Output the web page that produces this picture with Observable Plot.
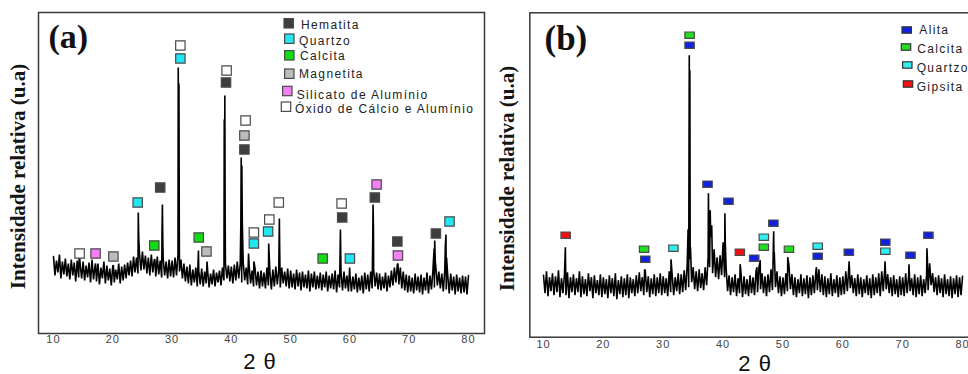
<!DOCTYPE html>
<html>
<head>
<meta charset="utf-8">
<script src="https://cdn.jsdelivr.net/npm/d3@7"></script>
<script src="https://cdn.jsdelivr.net/npm/@observablehq/plot@0.6"></script>
<style>
  body { margin: 0; background: #fff; }
  #wrap { position: relative; width: 968px; height: 374px; overflow: hidden; background: #fff; }
  #wrap > svg { position: absolute; top: 0; }
  svg { letter-spacing: 1px; }
  g[font-family="Liberation Serif"] { letter-spacing: 0; }
</style>
</head>
<body>
<div id="wrap"></div>
<script>
// ---------------- DATA ----------------
// Noise band of each pattern: upper edge at 10°, 10.5°, … 80°; lower edge at 10.25°, 10.75°, … 79.75°
const bandStart = 10, bandStep = 0.5;

// Panel (a) – upper / lower edge of the noisy baseline (arbitrary intensity units)
const upperA = [
  77,73,79,72,75,70,74,71,73,69,
  72,68,71,74,67,70,66,72,68,65,
  68,64,70,67,69,71,73,77,76,80,
  82,78,76,79,74,77,73,75,72,74,
  73,76,79,74,70,67,69,64,66,63,
  65,62,63,60,64,61,63,66,70,68,
  67,69,72,70,71,66,68,63,65,62,
  63,61,66,62,64,67,64,66,62,65,
  63,60,64,61,62,59,63,60,62,58,
  61,59,62,58,60,63,59,61,62,58,
  59,57,60,56,58,61,59,62,64,61,
  60,57,61,58,63,66,69,66,62,59,
  58,56,60,57,59,56,61,58,63,66,
  62,60,63,58,60,57,59,56,58,57,
  58
];
const lowerA = [
  58,61,55,59,57,54,58,52,56,55,
  53,56,51,54,52,49,55,50,53,48,
  51,54,50,53,55,58,57,61,60,63,
  64,60,58,61,57,59,56,58,55,57,
  56,58,62,55,52,50,48,51,47,49,
  47,50,46,49,47,51,48,53,55,52,
  50,53,55,51,53,49,50,47,48,45,
  47,45,48,44,47,49,46,50,47,45,
  46,44,47,43,46,45,42,46,44,45,
  43,46,42,45,44,41,46,43,45,42,
  42,44,41,43,40,44,42,45,47,44,
  43,45,42,46,48,51,49,45,43,41,
  42,40,43,41,39,43,40,44,46,48,
  45,42,44,40,43,39,42,40,41,39
];
// Panel (a) – diffraction peak points [2θ, intensity]
const peaksA = [
  [14.35,80],[17.1,70],[20.1,68],
  [24.3,121],[24.38,96],[27.1,74],
  [28.3,100],[28.37,129],[28.44,92],
  [31.04,266],[31.1,200],[31.16,250],[31.22,100],
  [34.45,83],[35.9,72],
  [38.8,214],[38.85,150],[38.9,238],[38.96,110],
  [41.6,110],[41.66,176],[41.71,130],[41.77,168],[41.85,110],
  [42.9,80],[43.8,72],[46.3,90],[48.1,115],[48.15,85],
  [58.4,104],[58.45,80],[59.95,66],
  [63.85,95],[63.9,129],[63.96,108],[63.99,85],
  [68.1,70],[74.2,85],[74.3,93],[74.4,72],
  [76.1,88],[76.2,99],[76.3,76]
];
// Panel (a) – phase markers [phase, 2θ, intensity]
const markersA = [
  ["Óxido",14.4,80],["Silicato",17.1,80],["Magnetita",20.1,77],
  ["Quartzo",24.2,131],["Calcita",27.0,88],["Hematita",28.0,146],
  ["Quartzo",31.4,275],["Óxido",31.4,288],
  ["Calcita",34.5,96],["Magnetita",35.8,82],
  ["Hematita",39.1,251],["Óxido",39.2,263],
  ["Óxido",42.4,213],["Magnetita",42.2,198],["Hematita",42.2,184],
  ["Óxido",43.8,101],["Quartzo",43.8,90],
  ["Óxido",46.4,114],["Quartzo",46.2,102],["Óxido",48.0,131],
  ["Calcita",55.4,75],["Óxido",58.6,130],["Hematita",58.7,116],
  ["Quartzo",60.0,75],["Silicato",64.5,149],["Hematita",64.2,136],
  ["Hematita",68.0,92],["Silicato",68.1,78],
  ["Hematita",74.5,100],["Quartzo",76.8,112]
];
const phasesA = ["Hematita","Quartzo","Calcita","Magnetita","Silicato","Óxido"];
const phaseLabelsA = ["Hematita","Quartzo","Calcita","Magnetita","Silicato de Alumínio","Óxido de Cálcio e Alumínio"];
const phaseColorsA = ["#3e3e3e","#22e6f2","#12dc12","#bcbcbc","#f57ff5","#ffffff"];

// Panel (b) – upper / lower edge of the noisy baseline
const upperB = [
  62,66,60,64,61,67,59,63,65,60,
  63,59,66,61,58,64,60,62,57,63,
  60,58,62,59,64,57,61,59,63,60,
  58,62,65,60,66,61,59,63,60,64,
  61,59,66,62,60,64,63,67,72,78,
  70,66,68,64,70,80,110,88,80,82,
  95,70,62,60,63,59,64,61,58,62,
  60,66,70,64,61,63,68,78,66,61,
  60,64,72,63,60,58,63,59,62,60,
  62,66,68,63,61,59,64,58,62,60,
  61,66,70,62,59,63,60,58,62,59,
  63,60,64,66,68,63,60,62,58,61,
  60,64,62,59,63,60,62,58,63,74,
  64,60,62,59,63,58,61,59,62,60,
  61
];
const lowerB = [
  44,41,46,42,45,40,44,42,39,45,
  42,45,40,43,41,46,39,44,42,40,
  43,39,44,41,38,43,40,42,39,44,
  41,44,46,42,45,40,43,41,44,42,
  44,41,45,42,46,43,45,47,50,55,
  48,46,49,47,52,70,64,60,58,62,
  60,46,42,45,41,44,40,43,41,44,
  42,45,48,44,41,45,47,50,44,41,
  43,46,48,42,40,44,41,43,39,42,
  44,47,45,42,40,43,41,44,40,42,
  43,46,49,44,41,43,40,44,42,39,
  42,44,41,46,48,44,41,43,40,42,
  41,44,46,42,40,43,41,44,47,52,
  45,42,44,40,43,41,39,43,40,42
];
// Panel (b) – diffraction peak points [2θ, intensity]
const peaksB = [
  [13.65,90],[26.9,68],[31.3,78],
  [34.15,108],[34.2,75],[34.35,282],[34.4,150],[34.45,267],[34.55,90],
  [37.55,144],[37.62,105],[37.85,127],[37.92,100],[38.1,112],
  [40.3,124],[40.37,95],
  [42.85,73],[45.65,70],[46.2,77],[48.45,106],[48.55,85],
  [50.8,80],[55.6,70],[61.05,76],[67.05,76],[71.05,73],
  [74.05,89],[74.12,80]
];
// Panel (b) – phase markers [phase, 2θ, intensity]
const markersB = [
  ["Gipsita",13.7,102],["Calcita",26.8,88],["Alita",27.0,78],
  ["Quartzo",31.7,89],["Calcita",34.4,302],["Alita",34.4,292],
  ["Alita",37.4,153],["Alita",40.9,136],["Gipsita",42.8,85],
  ["Alita",45.2,79],["Quartzo",46.8,100],["Calcita",46.8,90],
  ["Alita",48.4,114],["Calcita",51.0,88],["Quartzo",55.8,91],
  ["Alita",55.8,81],["Alita",61.0,85],["Alita",67.1,95],
  ["Quartzo",67.1,86],["Alita",71.3,82],["Alita",74.3,102]
];
const phasesB = ["Alita","Calcita","Quartzo","Gipsita"];
const phaseColorsB = ["#1022e0","#22dd22","#33eeee","#ee1111"];

const xTicks = [10,20,30,40,50,60,70,80];

// ---------------- BUILD ----------------
function trace(upper, lower, peaks) {
  const pts = [];
  upper.forEach((u, i) => {
    pts.push({x: bandStart + i * bandStep, y: u});
    if (i < lower.length) pts.push({x: bandStart + i * bandStep + bandStep / 2, y: lower[i]});
  });
  return pts.concat(peaks.map(([x, y]) => ({x, y}))).sort((a, b) => a.x - b.x);
}
const traceA = trace(upperA, lowerA, peaksA);
const traceB = trace(upperB, lowerB, peaksB);

const sqSym = {draw(ctx) { ctx.rect(-4.7, -4.7, 9.4, 9.4); }};
const rectSym = {draw(ctx) { ctx.rect(-4.7, -3.2, 9.4, 6.4); }};

const SANS = "Liberation Sans", SERIF = "Liberation Serif";

function panel(o) {
  return Plot.plot({
    width: o.width, height: 374,
    marginLeft: o.ml, marginRight: o.mr, marginTop: o.mt, marginBottom: o.mb,
    style: {fontFamily: SANS, fontSize: "11px", color: "#444", background: "transparent", overflow: "visible"},
    x: {domain: o.xdom, ticks: xTicks, tickSize: 0, tickPadding: o.tp, label: null, tickFormat: d => String(d)},
    y: {domain: o.ydom, axis: null},
    color: {domain: o.phases, range: o.colors},
    marks: [
      Plot.frame({stroke: "#3a3a3a", strokeWidth: 1.5}),
      Plot.line(o.trace, {x: "x", y: "y", stroke: "#000", strokeWidth: 1.6, strokeLinejoin: "miter"}),
      Plot.dot(o.markers, {x: d => d[1], y: d => d[2], fill: d => d[0], symbol: o.sym, stroke: "#4a4a4a", strokeWidth: 1.2}),
      Plot.text([o.tag], {frameAnchor: "top-left", dx: o.tagDx, dy: o.tagDy, lineAnchor: "bottom", textAnchor: "start",
        fontFamily: SERIF, fontWeight: "bold", fontSize: o.tagSize, fill: "#111"}),
      Plot.text(["Intensidade relativa (u.a)"], {frameAnchor: "left", textAnchor: "middle", lineAnchor: "middle", rotate: -90,
        dx: o.ylDx, dy: 3.5, fontFamily: SERIF, fontWeight: "bold", fontSize: 21, fill: "#141414"}),
      Plot.text(["2 θ"], {frameAnchor: "bottom", textAnchor: "middle", lineAnchor: "middle", dy: o.xlDy, dx: o.xlDx,
        fontFamily: SANS, fontSize: 22, fill: "#111"})
    ]
  });
}

const wrap = document.getElementById("wrap");

const svgA = panel({
  width: 490, ml: 38, mr: 6, mt: 12, mb: 41, xdom: [7.47, 82.7], ydom: [0, 321], tp: 1.5,
  phases: phasesA, colors: phaseColorsA, trace: traceA, markers: markersA, sym: sqSym,
  tag: "(a)", tagDx: 10, tagDy: 35.5, tagSize: 34, ylDx: -20, xlDy: 28, xlDx: -1.5
});
svgA.style.left = "0px";
wrap.appendChild(svgA);

const svgB = panel({
  width: 500, ml: 39.3, mr: 10, mt: 12.3, mb: 37.3, xdom: [7.71, 83.0], ydom: [0, 324.4], tp: 2.5,
  phases: phasesB, colors: phaseColorsB, trace: traceB, markers: markersB, sym: rectSym,
  tag: "(b)", tagDx: 14.7, tagDy: 37.2, tagSize: 35, ylDx: -22.6, xlDy: 26.5, xlDx: 0
});
svgB.style.left = "490px";
wrap.appendChild(svgB);

// ---------------- LEGENDS ----------------
// layout: [square cx, square cy, text x, text cy] in each SVG's own pixels
const legendLayoutA = [[288.7,23.3,301,25],[289.3,38.7,299,40.3],[289.3,55.3,300,56],[289.3,73.7,299,73.3],[287.3,91,296.7,94.3],[286,106.7,295,109]];
const legendLayoutB = [[416.7,30,429.3,30],[416,47,427.3,49],[417.3,65,426.7,68],[418,84,426.7,87]];

function legend(svg, labels, colors, layout, w, h, stroke) {
  const g = d3.select(svg).append("g").attr("font-family", SANS).attr("font-size", 12)
    .attr("fill", "#222").attr("text-anchor", "start").style("letter-spacing", "1.35px");
  labels.forEach((lab, i) => {
    const [cx, cy, tx, ty] = layout[i];
    g.append("rect").attr("x", cx - w / 2).attr("y", cy - h / 2).attr("width", w).attr("height", h)
      .attr("fill", colors[i]).attr("stroke", stroke).attr("stroke-width", 1.2);
    g.append("text").attr("x", tx).attr("y", ty).attr("dy", "0.35em").text(lab);
  });
}
legend(svgA, phaseLabelsA, phaseColorsA, legendLayoutA, 9.4, 9.4, "#4a4a4a");
legend(svgB, phasesB, phaseColorsB, legendLayoutB, 9.4, 6.4, "#333");
</script>
</body>
</html>
